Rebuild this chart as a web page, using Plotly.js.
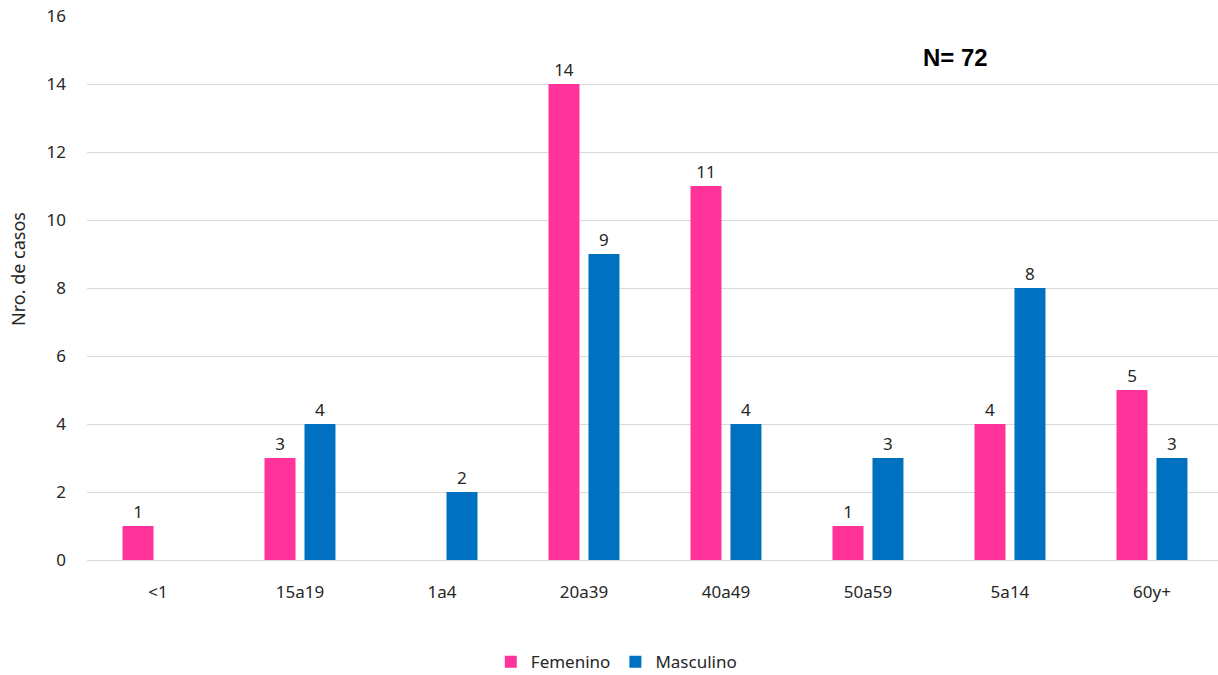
<!DOCTYPE html>
<html>
<head>
<meta charset="utf-8">
<script src="https://cdn.plot.ly/plotly-3.0.1.min.js"></script>
<style>html,body{margin:0;padding:0;background:#fff;}#chart{width:1218px;height:675px;}</style>
</head>
<body>
<div id="chart"></div>
<script>
const categories = ['<1','15a19','1a4','20a39','40a49','50a59','5a14','60y+'];
const femenino = [1, 3, null, 14, 11, 1, 4, 5];
const masculino = [null, 4, 2, 9, 4, 3, 8, 3];
const seriesNames = ['Femenino', 'Masculino'];
const seriesColors = ['#FF3399', '#0070C0'];
const FONT = 'Noto Sans, Open Sans, sans-serif';
const TXT = '#262626';

const traces = [femenino, masculino].map((vals, i) => ({
  type: 'bar',
  name: seriesNames[i],
  x: categories,
  y: vals,
  text: vals.map(v => v == null ? '' : String(v)),
  textposition: 'outside',
  textfont: {family: FONT, size: 17, color: TXT},
  cliponaxis: false,
  marker: {color: seriesColors[i], line: {width: 0}}
}));

const layout = {
  width: 1218, height: 675,
  margin: {l: 87, r: 0, t: 16, b: 115},
  paper_bgcolor: '#fff', plot_bgcolor: '#fff',
  barmode: 'group',
  bargap: 0.437,
  bargroupgap: 0.225,
  font: {family: FONT, size: 17, color: TXT},
  xaxis: {
    type: 'category',
    range: [-0.5, 7.465],
    showgrid: false, zeroline: false, showline: false,
    ticks: '', ticklabelstandoff: 20,
    tickfont: {family: FONT, size: 17, color: TXT}
  },
  yaxis: {
    range: [0, 16], dtick: 2,
    showgrid: true, gridcolor: '#D9D9D9', gridwidth: 1,
    zeroline: true, zerolinecolor: '#D9D9D9', zerolinewidth: 1,
    showline: false, ticks: '', ticklabelstandoff: 20,
    tickfont: {family: FONT, size: 17, color: TXT}
  },
  legend: {
    orientation: 'h', xref: 'container', yref: 'container',
    x: 0.506, xanchor: 'center', y: 0.019, yanchor: 'middle',
    font: {family: FONT, size: 17, color: TXT},
    itemwidth: 30, traceorder: 'normal'
  },
  annotations: [{
    text: '<b>N= 72</b>', xref: 'paper', yref: 'paper',
    x: 0.7675, y: 0.923, xanchor: 'center', yanchor: 'middle',
    showarrow: false,
    font: {family: 'Liberation Sans, Arial, sans-serif', size: 24, color: '#000'}
  }, {
    text: 'Nro. de casos', xref: 'paper', yref: 'paper',
    x: -0.061, y: 0.535, xanchor: 'center', yanchor: 'middle',
    textangle: -90, showarrow: false,
    font: {family: FONT, size: 18, color: TXT}
  }]
};

Plotly.newPlot('chart', traces, layout, {displayModeBar: false, staticPlot: true});
</script>
</body>
</html>
